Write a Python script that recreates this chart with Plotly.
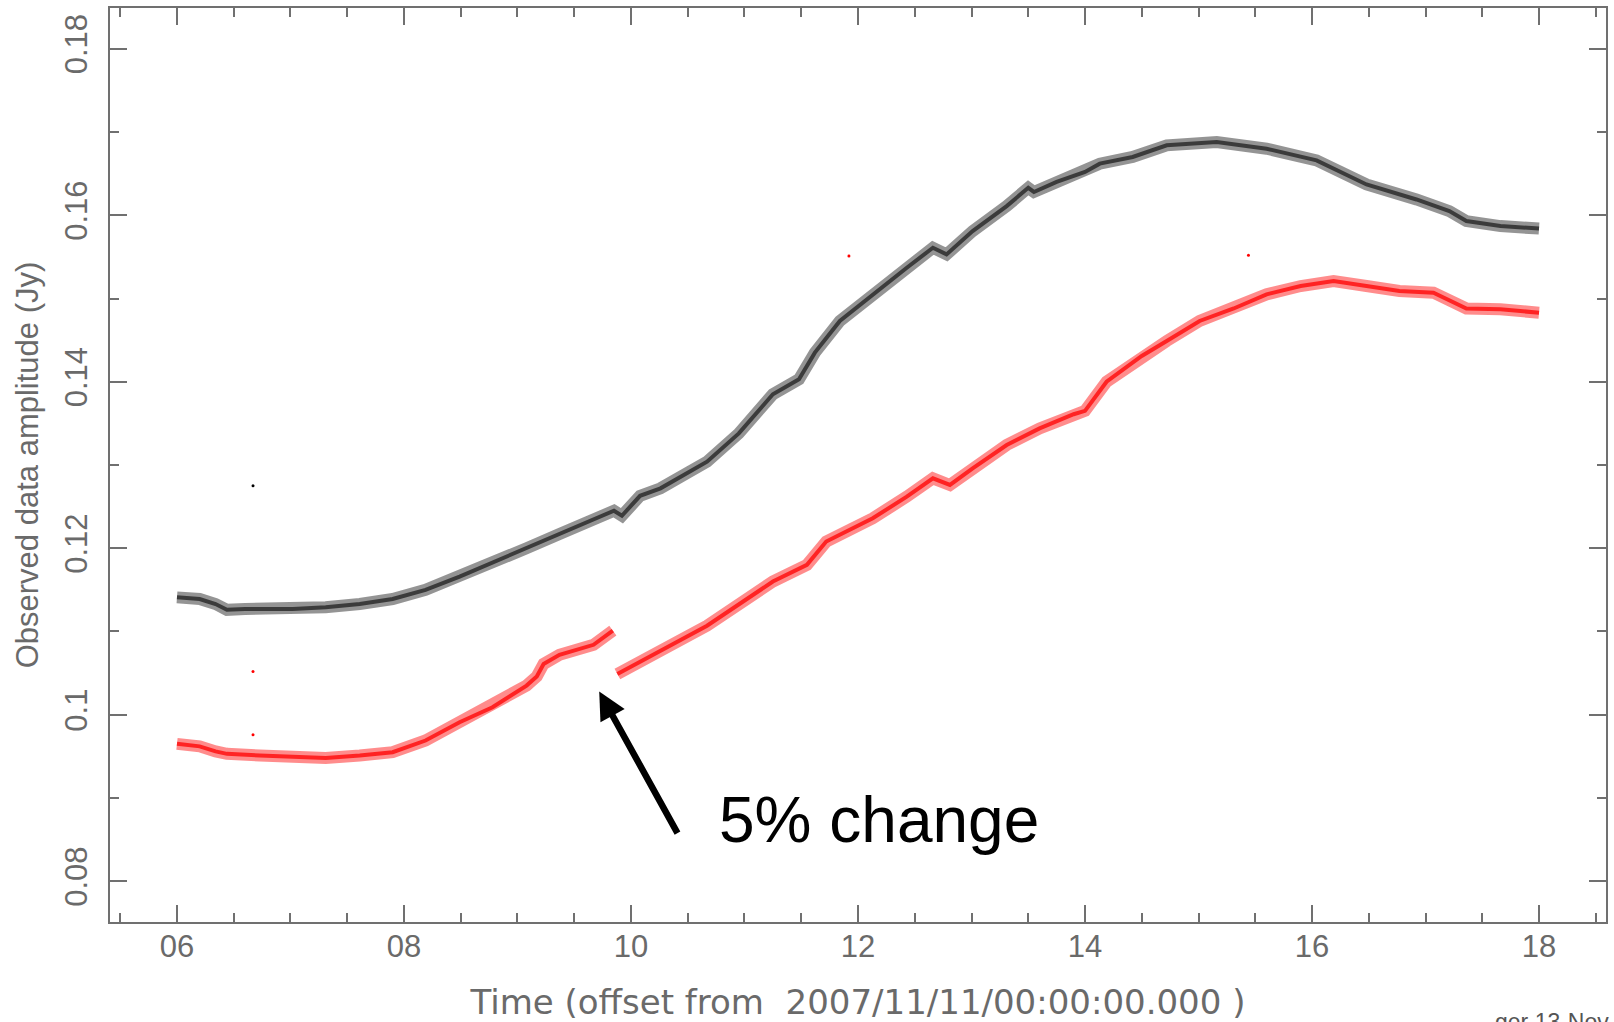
import plotly.graph_objects as go

# Observed amplitude vs time (hours after 2007/11/11 00:00 UT), two sources/channels
black_t = [6.00, 6.20, 6.34, 6.44, 6.60, 7.02, 7.31, 7.61, 7.90, 8.19, 8.49, 8.78,
           9.08, 9.37, 9.67, 9.85, 9.92, 10.08, 10.26, 10.67, 10.95, 11.25, 11.48,
           11.62, 11.84, 12.13, 12.43, 12.66, 12.78, 13.01, 13.31, 13.50, 13.55,
           13.75, 14.00, 14.13, 14.42, 14.72, 15.16, 15.60, 16.04, 16.48, 16.92,
           17.21, 17.36, 17.66, 18.00]
black_amp = [0.1141, 0.1139, 0.1133, 0.1126, 0.1127, 0.1127, 0.1129, 0.1133, 0.1139,
             0.1150, 0.1166, 0.1183, 0.1200, 0.1217, 0.1234, 0.1245, 0.1239, 0.1263,
             0.1272, 0.1304, 0.1338, 0.1385, 0.1403, 0.1435, 0.1473, 0.1505, 0.1537,
             0.1561, 0.1553, 0.1581, 0.1611, 0.1633, 0.1628, 0.1640, 0.1652, 0.1662,
             0.1670, 0.1684, 0.1688, 0.1680, 0.1666, 0.1637, 0.1619, 0.1605, 0.1593,
             0.1587, 0.1584]

# Red series: before the amplitude step near 09:50
red1_t = [6.00, 6.20, 6.34, 6.44, 6.73, 7.02, 7.31, 7.61, 7.90, 8.19, 8.49, 8.78,
          9.08, 9.17, 9.23, 9.37, 9.67, 9.84]
red1_amp = [0.0965, 0.0962, 0.0956, 0.0953, 0.0951, 0.0949, 0.0948, 0.0951, 0.0955,
            0.0969, 0.0991, 0.1009, 0.1035, 0.1046, 0.1061, 0.1072, 0.1084, 0.1101]
# ...and after it
red2_t = [9.88, 10.08, 10.40, 10.67, 11.25, 11.55, 11.72, 12.13, 12.43, 12.66, 12.81,
          13.01, 13.31, 13.60, 13.90, 14.00, 14.19, 14.50, 14.72, 15.01, 15.31, 15.60,
          15.90, 16.19, 16.48, 16.77, 17.07, 17.36, 17.66, 18.00]
red2_amp = [0.1049, 0.1064, 0.1087, 0.1107, 0.1160, 0.1180, 0.1208, 0.1236, 0.1262,
            0.1284, 0.1276, 0.1296, 0.1324, 0.1344, 0.1361, 0.1365, 0.1400, 0.1431,
            0.1449, 0.1473, 0.1488, 0.1505, 0.1515, 0.1521, 0.1515, 0.1509, 0.1507,
            0.1488, 0.1487, 0.1483]

# isolated stray samples
black_out_t = [6.67]
black_out_amp = [0.1275]
red_out_t = [6.67, 6.67, 11.92, 15.44]
red_out_amp = [0.1052, 0.0976, 0.1551, 0.1552]

x_tickvals = [6, 8, 10, 12, 14, 16, 18]
x_ticktext = ["06", "08", "10", "12", "14", "16", "18"]
y_tickvals = [0.08, 0.10, 0.12, 0.14, 0.16, 0.18]
y_ticktext = ["0.08", "0.1", "0.12", "0.14", "0.16", "0.18"]

AXIS_GREY = "#707070"
TEXT_GREY = "#6a6a6a"
FONT = "Liberation Sans"

W, H = 1614, 1022
M_L, M_R, M_T, M_B = 110, 6, 8, 100

fig = go.Figure()


def add_band(t, amp, color_halo, color_core):
    # a soft wide stroke plus a denser core, like a cloud of closely packed samples
    fig.add_trace(go.Scatter(x=t, y=amp, mode="lines",
                             line=dict(color=color_halo, width=12),
                             hoverinfo="skip", showlegend=False))
    fig.add_trace(go.Scatter(x=t, y=amp, mode="lines",
                             line=dict(color=color_core, width=4),
                             showlegend=False))


add_band(black_t, black_amp, "rgba(0,0,0,0.42)", "rgba(0,0,0,0.6)")
add_band(red1_t, red1_amp, "rgba(255,0,0,0.45)", "rgba(255,0,0,0.75)")
add_band(red2_t, red2_amp, "rgba(255,0,0,0.45)", "rgba(255,0,0,0.75)")

fig.add_trace(go.Scatter(x=black_out_t, y=black_out_amp, mode="markers",
                         marker=dict(color="black", size=3), showlegend=False))
fig.add_trace(go.Scatter(x=red_out_t, y=red_out_amp, mode="markers",
                         marker=dict(color="red", size=3), showlegend=False))

axis_common = dict(
    showgrid=False, zeroline=False,
    showline=True, linecolor=AXIS_GREY, linewidth=1.5,
    mirror="ticks", ticks="inside", ticklen=17, tickwidth=1.5, tickcolor=AXIS_GREY,
    tickfont=dict(family=FONT, size=31, color=TEXT_GREY),
)

fig.update_xaxes(
    range=[5.41, 18.59],
    tickmode="array", tickvals=x_tickvals, ticktext=x_ticktext,
    minor=dict(dtick=0.5, tick0=0, ticks="inside", ticklen=9, tickwidth=1.5,
               tickcolor=AXIS_GREY),
    ticklabelstandoff=-4,
    title=dict(text="Time (offset from  2007/11/11/00:00:00.000 )",
               font=dict(family="DejaVu Sans", size=34, color=TEXT_GREY),
               standoff=27),
    **axis_common,
)
fig.update_yaxes(
    range=[0.0751, 0.1849],
    tickmode="array", tickvals=y_tickvals, ticktext=y_ticktext,
    tickangle=-90,
    minor=dict(dtick=0.01, tick0=0, ticks="inside", ticklen=9, tickwidth=1.5,
               tickcolor=AXIS_GREY),
    ticklabelstandoff=9,
    title=dict(text="Observed data amplitude (Jy)",
               font=dict(family=FONT, size=31, color=TEXT_GREY),
               standoff=11),
    **axis_common,
)

# arrow pointing at the amplitude step
fig.add_annotation(x=9.72, y=0.1028, ax=10.417, ay=0.0856, axref="x", ayref="y",
                   xref="x", yref="y", text="", showarrow=True,
                   arrowhead=2, arrowsize=0.85, arrowwidth=6.5, arrowcolor="black",
                   standoff=0)
fig.add_annotation(x=10.755, y=0.0873, xref="x", yref="y", xanchor="left",
                   yanchor="middle", text="5% change", showarrow=False,
                   font=dict(family=FONT, size=64, color="black"))

# plot stamp in the lower right corner, positioned in page pixels
stamp_px, stamp_py = 1495, 1007
fig.add_annotation(x=(stamp_px - M_L) / (W - M_L - M_R),
                   y=-(stamp_py - (H - M_B)) / (H - M_T - M_B),
                   xref="paper", yref="paper", text="ger 13-Nov-2007",
                   showarrow=False, xanchor="left", yanchor="top",
                   font=dict(family=FONT, size=23, color="#555555"))

fig.update_layout(
    width=W, height=H,
    margin=dict(l=M_L, r=M_R, t=M_T, b=M_B),
    plot_bgcolor="white", paper_bgcolor="white",
)

fig.write_html("out.html")
